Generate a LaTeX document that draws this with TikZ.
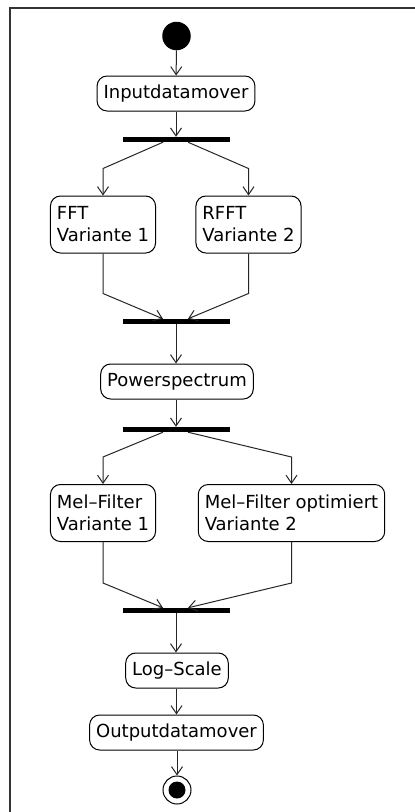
\documentclass[tikz,border=0pt]{standalone}
\usepackage{fontspec}
\setmainfont{DejaVu Sans}
\usetikzlibrary{arrows.meta,calc}

\tikzset{
  action/.style={draw=black, line width=1pt, rounded corners=10pt, fill=white,
    inner xsep=6.5pt, inner ysep=0pt, minimum height=35pt,
    font=\fontsize{18pt}{22pt}\selectfont, text=black},
  twoline/.style={action, align=left, minimum height=57pt},
  syncbar/.style={fill=black, draw=none, minimum width=107pt, minimum height=5pt,
    inner sep=0pt},
  flow/.style={draw=black!85, line width=1pt,
    -{Straight Barb[length=8pt,width=11pt,line width=1pt]}},
  frameline/.style={draw=black!80, line width=1.3pt},
}

\begin{document}
\begin{tikzpicture}[x=1pt, y=-1pt]
  \useasboundingbox[fill=white] (0,0) rectangle (415,812);

  % outer frame (top and left edges)
  \coordinate (frameTL) at (10,8);
  \coordinate (frameTR) at (415,8);
  \coordinate (frameBL) at (10,812);
  \draw[frameline] (frameTR) -- (frameTL) -- (frameBL);

  % start and end states
  \node[circle, fill=black, minimum size=28.5pt, inner sep=0pt] (start) at (176.5,36) {};
  \node[circle, draw=black, line width=1pt, minimum size=28pt, inner sep=0pt] (stop) at (177,790) {};
  \node[circle, fill=black, minimum size=17pt, inner sep=0pt] at (stop) {};

  % actions
  \node[action] (input) at (176,93.5) {Inputdatamover};
  \node[syncbar] (fork1) at (176,139.5) {};
  \node[twoline] (fft) at (103,224.5) {FFT\\Variante 1};
  \node[twoline] (rfft) at (248.5,224.5) {RFFT\\Variante 2};
  \node[syncbar] (join1) at (176,321.5) {};
  \node[action] (power) at (177,381.5) {Powerspectrum};
  \node[syncbar] (fork2) at (176,429.5) {};
  \node[twoline] (mel1) at (103,513) {Mel–Filter\\Variante 1};
  \node[twoline] (mel2) at (291.5,513) {Mel–Filter optimiert\\Variante 2};
  \node[syncbar] (join2) at (176,610.5) {};
  \node[action] (logs) at (177,670.5) {Log–Scale};
  \node[action] (output) at (176.5,732.5) {Outputdatamover};

  % connectors
  \draw[flow] (start) -- (input);
  \draw[flow] (input.south) -- (input.south |- fork1.north);

  \draw[flow] ($(fork1.south)+(-13,0)$) -- ($(fft.north)+(0,-27)$) -- (fft.north);
  \draw[flow] ($(fork1.south)+(12,0)$) -- ($(rfft.north)+(0,-27)$) -- (rfft.north);

  \draw[flow] (fft.south) -- ($(fft.south)+(0,40)$) -- ($(join1.north)+(-13,0)$);
  \draw[flow] (rfft.south) -- ($(rfft.south)+(0,40)$) -- ($(join1.north)+(12,0)$);

  \draw[flow] (join1.south) -- (join1.south |- power.north);
  \draw[flow] (power.south -| fork2.north) -- (fork2.north);

  \draw[flow] ($(fork2.south)+(-13,0)$) -- ($(mel1.north)+(0,-27)$) -- (mel1.north);
  \draw[flow] ($(fork2.south)+(12,0)$) -- ($(mel2.north)+(0,-27)$) -- (mel2.north);

  \draw[flow] (mel1.south) -- ($(mel1.south)+(0,41)$) -- ($(join2.north)+(-13,0)$);
  \draw[flow] (mel2.south) -- ($(mel2.south)+(0,41)$) -- ($(join2.north)+(12,0)$);

  \draw[flow] (join2.south) -- (join2.south |- logs.north);
  \draw[flow] (logs.south -| output.north) -- (output.north);
  \draw[flow] (output.south -| stop.north) -- (stop.north);
\end{tikzpicture}
\end{document}
